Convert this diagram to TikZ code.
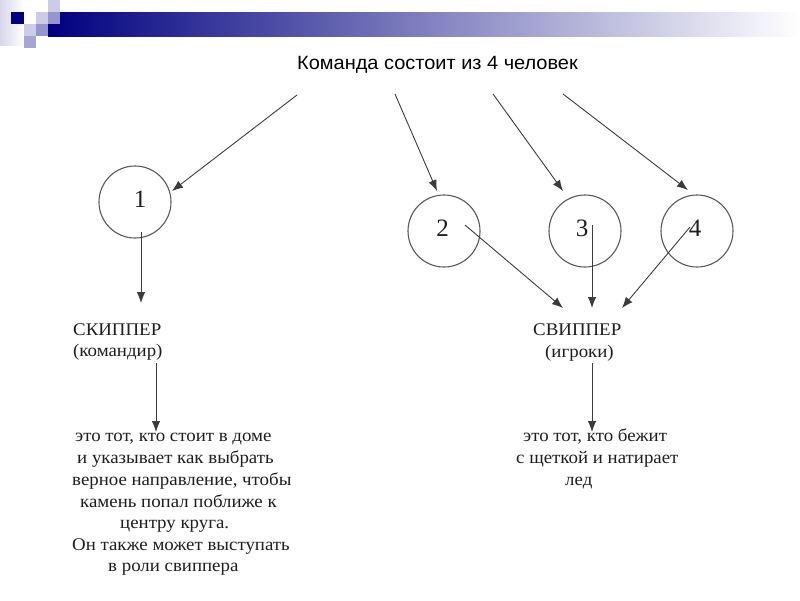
\documentclass[tikz,border=0pt]{standalone}
\usepackage{fontspec}
\setmainfont{Liberation Serif}[FakeStretch=1.06]
\newfontfamily\arialf{Liberation Sans}[FakeStretch=1.04]
\newfontfamily\digitf{Liberation Serif}
\usetikzlibrary{arrows.meta}
\definecolor{navy}{RGB}{0,0,128}
\definecolor{lavlight}{RGB}{204,204,230}
\definecolor{lavmid}{RGB}{150,150,204}
\definecolor{linegray}{RGB}{60,60,60}
\definecolor{circgray}{RGB}{90,90,90}
\definecolor{txtgray}{RGB}{30,30,30}
\tikzset{
  circ/.style={draw=circgray, line width=1.1pt, circle, minimum size=72pt, inner sep=0pt},
  digit/.style={font=\digitf\fontsize{25}{28}\selectfont, text=txtgray, inner sep=0pt, anchor=base},
  body/.style={font=\fontsize{17.8}{21}\selectfont, text=txtgray, inner sep=0pt, anchor=base west},
  title/.style={font=\arialf\fontsize{19.2}{22}\selectfont, inner sep=0pt, anchor=base west},
  arr/.style={draw=linegray, line width=0.9pt, -{Latex[length=11pt,width=8.5pt]}},
  sq/.style={draw=none}
}
\begin{document}
\begin{tikzpicture}[x=1pt,y=-1pt]
\useasboundingbox (0,0) rectangle (800,600);
\fill[white] (0,0) rectangle (800,600);
% header decoration
\shade[left color=navy, right color=white] (48,12) rectangle (800,36);
\shade[sq, left color=lavlight!80, right color=white] (0,0) rectangle (24,45);
\fill[navy] (11,12) rectangle (24,24);
\fill[lavlight] (48,0) rectangle (60,12);
\fill[lavlight] (36,12) rectangle (48,24);
\fill[lavmid] (48,12) rectangle (60,24);
\fill[lavlight] (24,24) rectangle (36,36);
\fill[lavmid] (36,24) rectangle (48,36);
\fill[lavmid!85] (24,36) rectangle (36,48);

% title
\node[title] (t) at (297,69.3) {Команда состоит из 4 человек};

% circles
\node[circ] (c1) at (135,202) {};
\node[circ] (c2) at (444,231) {};
\node[circ] (c3) at (585,231) {};
\node[circ] (c4) at (697,231) {};
\node[digit] (d1) at (140,207.7) {1};
\node[digit] (d2) at (442.5,236.7) {2};
\node[digit] (d3) at (582,236.7) {3};
\node[digit] (d4) at (695,236.7) {4};

% labels
\node[body] (sk) at (73,335) {СКИППЕР};
\node[body] (kom) at (73,356) {(командир)};
\node[body] (sv) at (533,335) {СВИППЕР};
\node[body] (igr) at (545,357) {(игроки)};

\node[body] (l1) at (75,441.7) {это тот, кто стоит в доме};
\node[body] (l2) at (77,463) {и указывает как выбрать};
\node[body] (l3) at (72,485) {верное направление, чтобы};
\node[body] (l4) at (80,507) {камень попал поближе к};
\node[body] (l5) at (120,528) {центру круга.};
\node[body] (l6) at (72,550) {Он также может выступать};
\node[body] (l7) at (108,571) {в роли свиппера};

\node[body] (r1) at (523,441.7) {это тот, кто бежит};
\node[body] (r2) at (516,463) {с щеткой и натирает};
\node[body] (r3) at (565,485) {лед};

% connector coordinates
\coordinate (s1) at (297,95);
\coordinate (e1) at (172,191);
\coordinate (s2) at (395,94);
\coordinate (e2) at (437,191);
\coordinate (s3) at (493,94);
\coordinate (e3) at (563,191);
\coordinate (s4) at (563,94);
\coordinate (e4) at (688,190);
\coordinate (a1) at (141,232);
\coordinate (b1) at (141,303);
\coordinate (a2) at (156,363);
\coordinate (b2) at (156,432);
\coordinate (f2) at (465,225);
\coordinate (f3) at (592,225);
\coordinate (f4) at (690,227);
\coordinate (g2) at (563,308);
\coordinate (g3) at (592,308);
\coordinate (g4) at (622,308);
\coordinate (h1) at (592,363);
\coordinate (h2) at (592,432);

\draw[arr] (s1) -- (e1);
\draw[arr] (s2) -- (e2);
\draw[arr] (s3) -- (e3);
\draw[arr] (s4) -- (e4);
\draw[arr] (a1) -- (b1);
\draw[arr] (a2) -- (b2);
\draw[arr] (f2) -- (g2);
\draw[arr] (f3) -- (g3);
\draw[arr] (f4) -- (g4);
\draw[arr] (h1) -- (h2);
\end{tikzpicture}
\end{document}
